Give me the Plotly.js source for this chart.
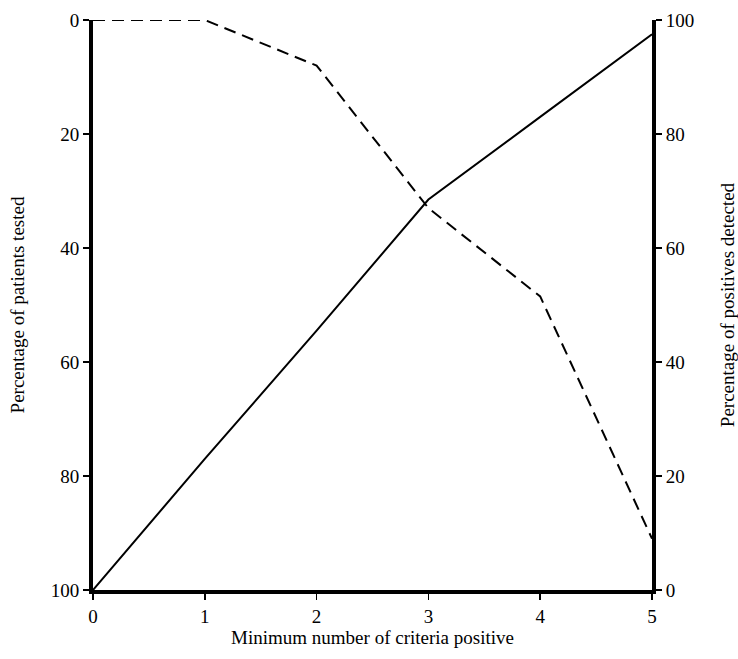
<!DOCTYPE html>
<html>
<head>
<meta charset="utf-8">
<script src="https://cdn.plot.ly/plotly-3.0.1.min.js"></script>
<style>html,body{margin:0;padding:0;background:#fff;}#chart{width:738px;height:659px;}</style>
</head>
<body>
<div id="chart"></div>
<script>
// Data
var criteria = [0, 1, 2, 3, 4, 5];
var patientsTested = [0, 0, 8, 33, 48.5, 91];        // left axis (reversed)
var positivesDetected = [0, 23, 45.5, 68.5, 83, 97.5]; // right axis
var leftTicks = [0, 20, 40, 60, 80, 100];
var rightTicks = [0, 20, 40, 60, 80, 100];
var xTicks = [0, 1, 2, 3, 4, 5];

var fontFam = 'Liberation Serif, Times New Roman, serif';

var traces = [
  {
    x: criteria, y: patientsTested, yaxis: 'y', type: 'scatter', mode: 'lines',
    line: {color: '#000', width: 2, dash: '12px,7px'}, cliponaxis: false,
    name: 'Percentage of patients tested', showlegend: false
  },
  {
    x: criteria, y: positivesDetected, yaxis: 'y2', type: 'scatter', mode: 'lines',
    line: {color: '#000', width: 2}, cliponaxis: false,
    name: 'Percentage of positives detected', showlegend: false
  }
];

var axisCommon = {
  showline: true, linecolor: '#000', linewidth: 4,
  ticks: 'outside', ticklen: 6, tickwidth: 1.5, tickcolor: '#000',
  showgrid: false, zeroline: false,
  tickfont: {family: fontFam, size: 19, color: '#000'}
};

var layout = {
  width: 738, height: 659,
  margin: {l: 93, r: 86, t: 20, b: 69},
  paper_bgcolor: '#fff', plot_bgcolor: '#fff',
  showlegend: false,
  font: {family: fontFam, color: '#000'},
  xaxis: Object.assign({}, axisCommon, {
    range: [0, 5], tickvals: xTicks, ticktext: xTicks.map(String),
    title: {text: 'Minimum number of criteria positive', font: {family: fontFam, size: 19, color: '#000'}, standoff: 4}
  }),
  yaxis: Object.assign({}, axisCommon, {
    range: [100, 0], tickvals: leftTicks, ticktext: leftTicks.map(String),
    side: 'left',
    title: {text: 'Percentage of patients tested', font: {family: fontFam, size: 19, color: '#000'}, standoff: 22}
  }),
  yaxis2: Object.assign({}, axisCommon, {
    range: [0, 100], tickvals: rightTicks, ticktext: rightTicks.map(String),
    overlaying: 'y', side: 'right',
    title: {text: 'Percentage of positives detected', font: {family: fontFam, size: 19, color: '#000'}, standoff: 30}
  })
};

Plotly.newPlot('chart', traces, layout, {staticPlot: true, displayModeBar: false});
</script>
</body>
</html>
